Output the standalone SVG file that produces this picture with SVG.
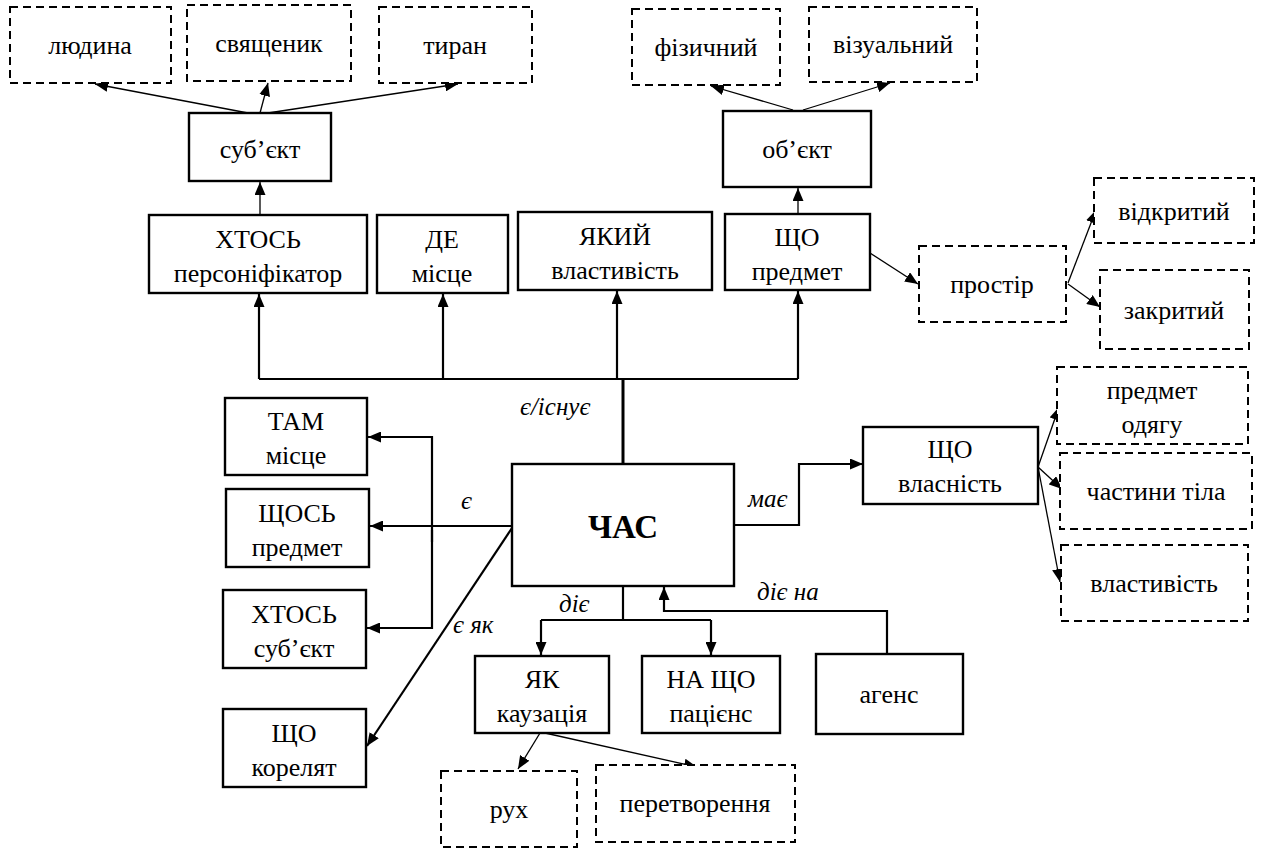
<svg xmlns="http://www.w3.org/2000/svg" width="1264" height="852" viewBox="0 0 1264 852">
  <defs>
    <marker id="arr" markerUnits="userSpaceOnUse" markerWidth="13" markerHeight="11" refX="13" refY="5.5" orient="auto">
      <path d="M0,0 L13,5.5 L0,11 z" fill="#000"/>
    </marker>
    <style>
      .box { fill: #fff; stroke: #000; stroke-width: 2.4; }
      .dash { fill: #fff; stroke: #000; stroke-width: 2; stroke-dasharray: 8 5; }
      .t { font-family: "Liberation Serif", "Times New Roman", "DejaVu Serif", serif; font-size: 26px; fill: #000; text-anchor: middle; }
      .big { font-family: "Liberation Serif", "Times New Roman", "DejaVu Serif", serif; font-size: 33px; font-weight: bold; fill: #000; text-anchor: middle; }
      .lbl { font-family: "Liberation Serif", "Times New Roman", "DejaVu Serif", serif; font-size: 25px; font-style: italic; fill: #000; }
      .c { fill: none; stroke: #000; stroke-width: 2.2; }
      .thick { fill: none; stroke: #000; stroke-width: 3; }
      .thin { fill: none; stroke: #000; stroke-width: 1.3; }
    </style>
  </defs>

  <rect width="1264" height="852" fill="#fff"/>

  <!-- connectors -->
  <g id="connectors">
    <!-- є/існує trunk and bus -->
    <path class="thick" d="M623,464 V379"/>
    <path class="c" d="M259,379 H798"/>
    <path class="c" d="M259,379 V294" marker-end="url(#arr)"/>
    <path class="c" d="M443,379 V294" marker-end="url(#arr)"/>
    <path class="c" d="M617,379 V291" marker-end="url(#arr)"/>
    <path class="c" d="M798,379 V291" marker-end="url(#arr)"/>

    <!-- up to суб'єкт / об'єкт -->
    <path class="thin" d="M260,214 V182" marker-end="url(#arr)"/>
    <path class="thin" d="M798,213 V188" marker-end="url(#arr)"/>

    <!-- суб'єкт children -->
    <path class="thin" d="M248,113 L95,84" marker-end="url(#arr)"/>
    <path class="thin" d="M260,113 L268,83" marker-end="url(#arr)"/>
    <path class="thin" d="M268,113 L458,84" marker-end="url(#arr)"/>

    <!-- об'єкт children -->
    <path class="thin" d="M793,110 L711,86" marker-end="url(#arr)"/>
    <path class="thin" d="M803,110 L890,83" marker-end="url(#arr)"/>

    <!-- ЩО предмет → простір → відкритий / закритий -->
    <path class="thin" d="M870,253 L918,284" marker-end="url(#arr)"/>
    <path class="thin" d="M1068,283 L1096,210" marker-end="url(#arr)"/>
    <path class="thin" d="M1068,284 L1100,307" marker-end="url(#arr)"/>

    <!-- є : ЧАС → ЩОСЬ, bracket to ТАМ / ХТОСЬ -->
    <path class="c" d="M512,526 H370" marker-end="url(#arr)"/>
    <path class="c" d="M432,542 V437 H368" marker-end="url(#arr)"/>
    <path class="c" d="M432,530 V628 H367" marker-end="url(#arr)"/>

    <!-- є як -->
    <path class="c" d="M512,528 L367,746" marker-end="url(#arr)"/>

    <!-- має -->
    <path class="c" d="M734,525 H799 V464 H863" marker-end="url(#arr)"/>

    <!-- ЩО власність children -->
    <path class="thin" d="M1038,467 L1059,407" marker-end="url(#arr)"/>
    <path class="thin" d="M1038,467 L1062,489" marker-end="url(#arr)"/>
    <path class="thin" d="M1038,467 L1060,582" marker-end="url(#arr)"/>

    <!-- діє -->
    <path class="c" d="M623,586 V620"/>
    <path class="c" d="M541,620 H711"/>
    <path class="c" d="M541,620 V655" marker-end="url(#arr)"/>
    <path class="c" d="M711,620 V655" marker-end="url(#arr)"/>

    <!-- діє на -->
    <path class="c" d="M887,654 V611 H664 V587" marker-end="url(#arr)"/>

    <!-- ЯК children -->
    <path class="thin" d="M540,733 L518,769" marker-end="url(#arr)"/>
    <path class="thin" d="M545,733 L697,767" marker-end="url(#arr)"/>
  </g>

  <!-- connector labels -->
  <g id="labels">
    <text class="lbl" x="520" y="415">є/існує</text>
    <text class="lbl" x="461" y="509">є</text>
    <text class="lbl" x="748" y="507">має</text>
    <text class="lbl" x="559" y="612">діє</text>
    <text class="lbl" x="757" y="600">діє на</text>
    <text class="lbl" x="453" y="633">є як</text>
  </g>

  <!-- top dashed nodes -->
  <g id="n-lyudyna"><rect class="dash" x="10" y="7" width="161" height="76"/><text class="t" x="90" y="54">людина</text></g>
  <g id="n-sviashchenyk"><rect class="dash" x="187" y="5" width="164" height="76"/><text class="t" x="269" y="52">священик</text></g>
  <g id="n-tyran"><rect class="dash" x="379" y="7" width="153" height="76"/><text class="t" x="455" y="54">тиран</text></g>
  <g id="n-fizychnyi"><rect class="dash" x="632" y="9" width="148" height="76"/><text class="t" x="706" y="56">фізичний</text></g>
  <g id="n-vizualnyi"><rect class="dash" x="809" y="7" width="168" height="75"/><text class="t" x="893" y="53">візуальний</text></g>

  <g id="n-subiekt"><rect class="box" x="189" y="113" width="142" height="68"/><text class="t" x="260" y="158">суб’єкт</text></g>
  <g id="n-obiekt"><rect class="box" x="723" y="111" width="148" height="76"/><text class="t" x="797" y="158">об’єкт</text></g>

  <!-- second row -->
  <g id="n-khtos-pers"><rect class="box" x="149" y="215" width="218" height="78"/><text class="t" x="258" y="248">ХТОСЬ</text><text class="t" x="258" y="282">персоніфікатор</text></g>
  <g id="n-de"><rect class="box" x="377" y="215" width="131" height="78"/><text class="t" x="442" y="248">ДЕ</text><text class="t" x="442" y="282">місце</text></g>
  <g id="n-yakyi"><rect class="box" x="518" y="212" width="194" height="78"/><text class="t" x="615" y="245">ЯКИЙ</text><text class="t" x="615" y="279">властивість</text></g>
  <g id="n-shcho-predmet"><rect class="box" x="725" y="214" width="145" height="76"/><text class="t" x="797" y="246">ЩО</text><text class="t" x="797" y="280">предмет</text></g>

  <g id="n-vidkrytyi"><rect class="dash" x="1094" y="178" width="160" height="65"/><text class="t" x="1174" y="220">відкритий</text></g>
  <g id="n-prostir"><rect class="dash" x="919" y="246" width="147" height="76"/><text class="t" x="992" y="293">простір</text></g>
  <g id="n-zakrytyi"><rect class="dash" x="1100" y="270" width="149" height="79"/><text class="t" x="1174" y="319">закритий</text></g>

  <!-- left column -->
  <g id="n-tam"><rect class="box" x="225" y="398" width="142" height="77"/><text class="t" x="296" y="430">ТАМ</text><text class="t" x="296" y="464">місце</text></g>
  <g id="n-shchos"><rect class="box" x="226" y="489" width="143" height="78"/><text class="t" x="297" y="522">ЩОСЬ</text><text class="t" x="297" y="556">предмет</text></g>
  <g id="n-khtos-sub"><rect class="box" x="223" y="590" width="143" height="78"/><text class="t" x="294" y="623">ХТОСЬ</text><text class="t" x="294" y="657">суб’єкт</text></g>
  <g id="n-koreliat"><rect class="box" x="223" y="709" width="143" height="78"/><text class="t" x="294" y="742">ЩО</text><text class="t" x="294" y="776">корелят</text></g>

  <!-- centre -->
  <g id="n-chas"><rect class="box" x="512" y="464" width="222" height="122"/><text class="big" x="623" y="538">ЧАС</text></g>

  <!-- right -->
  <g id="n-vlasnist"><rect class="box" x="863" y="427" width="175" height="77"/><text class="t" x="950" y="458">ЩО</text><text class="t" x="950" y="492">власність</text></g>
  <g id="n-odiag"><rect class="dash" x="1057" y="367" width="191" height="77"/><text class="t" x="1152" y="399">предмет</text><text class="t" x="1152" y="433">одягу</text></g>
  <g id="n-tilo"><rect class="dash" x="1060" y="453" width="192" height="76"/><text class="t" x="1156" y="500">частини тіла</text></g>
  <g id="n-vlastyvist"><rect class="dash" x="1061" y="545" width="187" height="76"/><text class="t" x="1154" y="592">властивість</text></g>

  <!-- bottom -->
  <g id="n-yak"><rect class="box" x="475" y="656" width="134" height="77"/><text class="t" x="542" y="688">ЯК</text><text class="t" x="542" y="722">каузація</text></g>
  <g id="n-na-shcho"><rect class="box" x="642" y="656" width="138" height="77"/><text class="t" x="711" y="688">НА ЩО</text><text class="t" x="711" y="722">пацієнс</text></g>
  <g id="n-ahens"><rect class="box" x="816" y="654" width="147" height="80"/><text class="t" x="889" y="703">агенс</text></g>

  <g id="n-rukh"><rect class="dash" x="441" y="771" width="136" height="76"/><text class="t" x="509" y="818">рух</text></g>
  <g id="n-peretvorennia"><rect class="dash" x="596" y="765" width="199" height="77"/><text class="t" x="695" y="812">перетворення</text></g>
</svg>
